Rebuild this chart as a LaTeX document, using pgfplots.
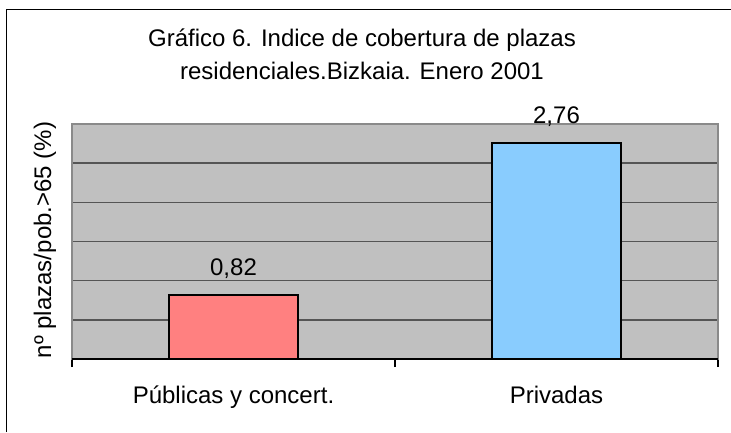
\documentclass[border=0pt]{standalone}
\usepackage{fontspec}
\setmainfont{Liberation Sans}
\usepackage{pgfplots}
\pgfplotsset{compat=1.18}
\definecolor{plotbg}{HTML}{C0C0C0}
\definecolor{barred}{HTML}{FF8080}
\definecolor{barblue}{RGB}{137,204,254}
\definecolor{gridc}{HTML}{555555}
\definecolor{borderc}{HTML}{8A8A8A}
\begin{document}
\begin{tikzpicture}[x=1pt,y=1pt,font=\fontsize{24}{29}\selectfont]
\useasboundingbox (0,0) rectangle (731,432);
\draw[black, line width=1.6pt] (6.5,0) -- (6.5,422.5) -- (731,422.5);
\node[anchor=base, inner sep=0pt] at (362,385.3) {Gráfico 6. Indice de cobertura de plazas};
\node[anchor=base, inner sep=0pt] at (362,352) {residenciales.Bizkaia. Enero 2001};
\node[anchor=base, rotate=90, inner sep=0pt] at (51,192) {nº plazas/pob.>65 (\%)};
\begin{axis}[
  at={(72pt,73pt)}, anchor=south west,
  scale only axis, width=646pt, height=235pt,
  xmin=0, xmax=2, ymin=0, ymax=3,
  enlargelimits=false, clip=false,
  axis background/.style={fill=plotbg},
  axis line style={draw=borderc, line width=1.2pt},
  ytick={0.5,1,1.5,2,2.5}, yticklabels={}, ytick style={draw=none},
  ymajorgrids, major grid style={draw=gridc, line width=1.6pt},
  extra y ticks={0}, extra y tick labels={},
  extra y tick style={grid=major, major grid style={draw=black, line width=1.8pt}, ytick style={draw=none}},
  xtick pos=bottom,
  xtick={0,1,2}, xticklabels={}, tick align=outside, major tick length=8pt,
  xtick style={draw=black, line width=1.6pt},
  extra x ticks={0.5,1.5}, extra x tick labels={Públicas y concert.,Privadas},
  extra x tick style={major tick length=0pt, xtick style={draw=none}},
  xticklabel style={anchor=base, yshift=-44pt, inner sep=0pt},
  /pgf/number format/use comma,
  /pgf/number format/fixed,
  /pgf/number format/fixed zerofill,
  /pgf/number format/precision=2,
  /pgf/number format/assume math mode=true,
]
\addplot[ybar, bar width=129pt, bar shift=0pt, fill=barred, draw=black, line width=1.6pt,
  nodes near coords, nodes near coords style={anchor=base, yshift=19pt, text=black, inner sep=0pt}]
  coordinates {(0.5,0.82)};
\addplot[ybar, bar width=129pt, bar shift=0pt, fill=barblue, draw=black, line width=1.6pt,
  nodes near coords, nodes near coords style={anchor=base, yshift=19pt, text=black, inner sep=0pt}]
  coordinates {(1.5,2.76)};
\end{axis}
\end{tikzpicture}
\end{document}
